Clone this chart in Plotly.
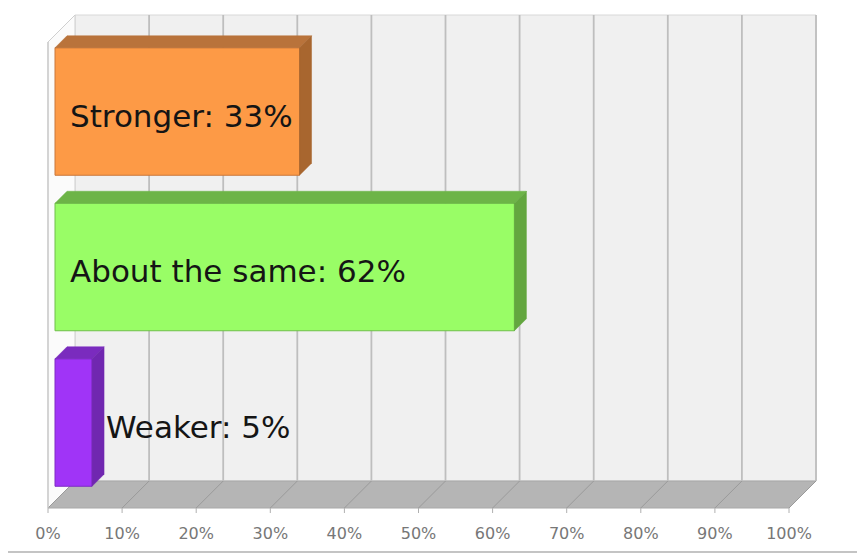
import plotly.graph_objects as go

# ---------------- data ----------------
categories = ["Stronger", "About the same", "Weaker"]   # top to bottom
values = [33, 62, 5]                                      # percent
tick_values = [0, 10, 20, 30, 40, 50, 60, 70, 80, 90, 100]
tick_labels = ["0%", "10%", "20%", "30%", "40%", "50%", "60%", "70%", "80%", "90%", "100%"]

front_colors = ["#FD9A46", "#99FD66", "#A034F7"]
top_colors = ["#B9733B", "#6DB447", "#7A2BBE"]
side_colors = ["#A8662F", "#63A63F", "#7027B0"]
edge_colors = ["#C9773A", "#6FBF4A", "#7E2BC4"]

# ---------------- layout constants (pixels, page coords minus body margin) ----------------
OFF = 8             # default page margin of the html body
W, H = 865 - OFF, 555 - OFF
S = 7.41            # px per percent
FRONT0 = 48 - OFF   # px of 0% on the front edge of the floor
BAR0 = 55 - OFF     # px of the bars' base
DEPTH = 27          # px depth of the chart box
BAR_DEPTH = 12      # px depth of each bar
WALL_TOP = 15 - OFF
FLOOR_BACK = 481 - OFF
FLOOR_FRONT = FLOOR_BACK + DEPTH
TICK_GAP = 14       # px from floor edge to tick-label axis line
ROW0 = 111.5 - OFF  # px centre of first bar
ROW = 155.5         # px between bars
BAR_W = 0.82        # bar thickness in row units
LABEL_DY = 4        # px label offset

fig = go.Figure()

n = len(categories)
ypos = list(range(n))

# front faces of the bars
fig.add_trace(go.Bar(
    x=values, y=ypos, orientation="h", width=BAR_W,
    marker=dict(color=front_colors, line=dict(color=edge_colors, width=1)),
    xaxis="x", yaxis="y", hoverinfo="skip", showlegend=False,
))

shapes = []
# outer border (top/left edges fall outside the figure)
shapes.append(dict(type="rect", xref="paper", yref="paper",
                   x0=-0.02, x1=1 - 6 / W, y0=3 / H, y1=1.02,
                   line=dict(color="#C4C4C4", width=2),
                   fillcolor="rgba(0,0,0,0)", layer="below"))

# ---- box (walls + floor) on x2 (percent, front plane) / y2 (pixels)
dxp = DEPTH / S
x_min, x_max = tick_values[0], tick_values[-1]
# back wall
shapes.append(dict(type="rect", xref="x2", yref="y2", layer="below",
                   x0=x_min + dxp, x1=x_max + dxp, y0=WALL_TOP, y1=FLOOR_BACK,
                   fillcolor="#F0F0F0", line=dict(color="#D8D8D8", width=1)))
# left wall
shapes.append(dict(type="path", xref="x2", yref="y2", layer="below",
                   path=f"M {x_min},{WALL_TOP + DEPTH} L {x_min + dxp},{WALL_TOP} "
                        f"L {x_min + dxp},{FLOOR_BACK} L {x_min},{FLOOR_FRONT} Z",
                   fillcolor="#FBFBFB", line=dict(color="#CFCFCF", width=1)))
# floor
shapes.append(dict(type="path", xref="x2", yref="y2", layer="below",
                   path=f"M {x_min},{FLOOR_FRONT} L {x_max},{FLOOR_FRONT} "
                        f"L {x_max + dxp},{FLOOR_BACK} L {x_min + dxp},{FLOOR_BACK} Z",
                   fillcolor="#B5B5B5", line=dict(color="#A8A8A8", width=1)))
for t in tick_values:
    # back wall grid lines
    if t > x_min:
        shapes.append(dict(type="line", xref="x2", yref="y2", layer="below",
                           x0=t + dxp, x1=t + dxp, y0=WALL_TOP, y1=FLOOR_BACK,
                           line=dict(color="#BEBEBE", width=1.8)))
    # floor diagonals
    shapes.append(dict(type="line", xref="x2", yref="y2", layer="below",
                       x0=t, x1=t + dxp, y0=FLOOR_FRONT, y1=FLOOR_BACK,
                       line=dict(color="#9A9A9A", width=1)))
    # tick marks
    shapes.append(dict(type="line", xref="x2", yref="y2", layer="below",
                       x0=t, x1=t, y0=FLOOR_FRONT, y1=FLOOR_FRONT + 5,
                       line=dict(color="#B0B0B0", width=1)))
# front left edge
shapes.append(dict(type="line", xref="x2", yref="y2", layer="below",
                   x0=x_min, x1=x_min, y0=WALL_TOP + DEPTH, y1=FLOOR_FRONT,
                   line=dict(color="#C8C8C8", width=1.2)))

# ---- 3D faces of bars on x / y
bdx = BAR_DEPTH / S
bdy = BAR_DEPTH / ROW
annotations = []
for k, (cat, v) in enumerate(zip(categories, values)):
    yt = ypos[k] - BAR_W / 2
    yb = ypos[k] + BAR_W / 2
    shapes.append(dict(type="path", xref="x", yref="y", layer="above",
                       path=f"M 0,{yt} L {v},{yt} L {v + bdx},{yt - bdy} L {bdx},{yt - bdy} Z",
                       fillcolor=top_colors[k], line=dict(color=top_colors[k], width=0.5)))
    shapes.append(dict(type="path", xref="x", yref="y", layer="above",
                       path=f"M {v},{yt} L {v + bdx},{yt - bdy} L {v + bdx},{yb - bdy} L {v},{yb} Z",
                       fillcolor=side_colors[k], line=dict(color=side_colors[k], width=0.5)))
    label = f"{cat}: {v}%"
    inside = v > 20
    ax = (13 / S) if inside else (v + bdx)
    annotations.append(dict(xref="x", yref="y", x=ax, y=ypos[k] + LABEL_DY / ROW,
                            text=label, showarrow=False, xanchor="left", yanchor="middle",
                            font=dict(family="DejaVu Sans", size=31, color="#151515")))

fig.update_layout(
    width=W, height=H,
    margin=dict(l=0, r=0, t=0, b=0, pad=0),
    paper_bgcolor="white", plot_bgcolor="rgba(0,0,0,0)",
    showlegend=False,
    xaxis=dict(range=[-BAR0 / S, (W - BAR0) / S], visible=False, fixedrange=True),
    yaxis=dict(range=[(H - ROW0) / ROW, -ROW0 / ROW], visible=False, fixedrange=True),
    xaxis2=dict(range=[-FRONT0 / S, (W - FRONT0) / S], overlaying="x", anchor="free",
                position=(H - FLOOR_FRONT - TICK_GAP) / H, side="bottom",
                tickvals=tick_values, ticktext=tick_labels, ticks="",
                showgrid=False, zeroline=False, showline=False,
                tickfont=dict(family="DejaVu Sans", size=16, color="#777777"),
                fixedrange=True),
    yaxis2=dict(range=[H, 0], overlaying="y", visible=False, fixedrange=True),
    shapes=shapes,
    annotations=annotations,
)

# invisible trace to activate the x2/y2 axes
fig.add_trace(go.Scatter(x=[tick_values[0]], y=[FLOOR_FRONT], xaxis="x2", yaxis="y2",
                         mode="markers", marker=dict(opacity=0), hoverinfo="skip",
                         showlegend=False))

fig.write_html("out.html")
